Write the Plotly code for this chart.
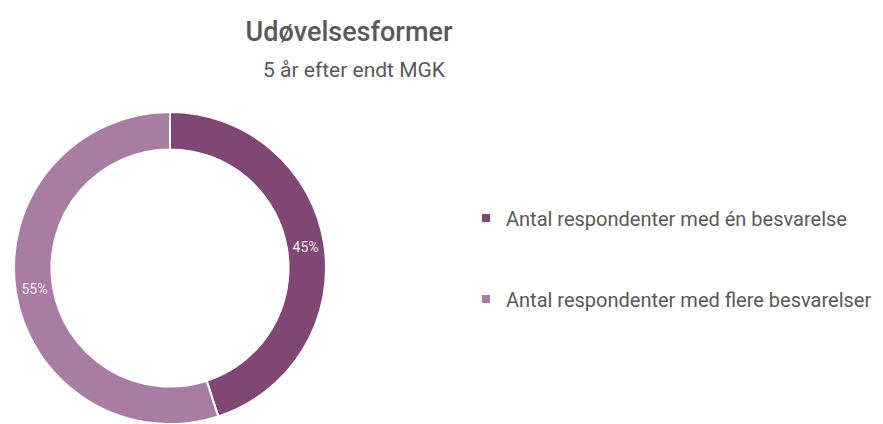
import plotly.graph_objects as go

# Data
categories = ["Antal respondenter med én besvarelse", "Antal respondenter med flere besvarelser"]
shares = [45, 55]
colors = ["#804674", "#A97CA2"]

# page has an 8px body margin -> figure is 8px smaller and positions offset
OFF = 8
W, H = 883 - OFF, 424 - OFF
cx, r = 170 - OFF, 156

fig = go.Figure()
fig.add_trace(go.Pie(
    labels=categories,
    values=shares,
    sort=False,
    direction="clockwise",
    rotation=0,
    hole=0.76,
    marker=dict(colors=colors, line=dict(color="white", width=2)),
    textinfo="percent",
    texttemplate="%{percent:.0%}",
    textposition="inside",
    insidetextorientation="horizontal",
    textfont=dict(color="#F2EAF0", size=14, family="Roboto"),
    showlegend=False,
    domain=dict(x=[(cx - r) / W, (cx + r) / W], y=[0, (2 * r) / H]),
))

# Legend entries
legend_names = ["legend", "legend2"]
legend_y = [218 - OFF, 299 - OFF]
for name, col, lg in zip(categories, colors, legend_names):
    fig.add_trace(go.Scatter(
        x=[None], y=[None], mode="markers", name=name, legend=lg,
        marker=dict(symbol="square", size=8, color=col),
        hoverinfo="skip",
    ))

leg_common = dict(
    xanchor="left", yanchor="middle", bgcolor="rgba(0,0,0,0)",
    font=dict(family="Roboto", size=20, color="#595959"),
)
fig.update_layout(
    width=W, height=H,
    margin=dict(l=0, r=0, t=0, b=0),
    paper_bgcolor="white", plot_bgcolor="white",
    xaxis=dict(visible=False), yaxis=dict(visible=False),
    title=dict(text="Udøvelsesformer", x=(349 - OFF) / W, xanchor="center", xref="paper",
               y=1 - (32 - OFF) / H, yanchor="middle", yref="container",
               font=dict(family="Roboto", size=27, color="#595959", weight=500)),
    annotations=[dict(text="5 år efter endt MGK", x=(354 - OFF) / W, y=1 - (70 - OFF) / H,
                      xref="paper", yref="paper", xanchor="center", yanchor="middle",
                      showarrow=False, font=dict(family="Roboto", size=21, color="#595959"))],
    legend=dict(x=458 / W, y=1 - legend_y[0] / H, **leg_common),
    legend2=dict(x=458 / W, y=1 - legend_y[1] / H, **leg_common),
)

fig.write_html("out.html")
